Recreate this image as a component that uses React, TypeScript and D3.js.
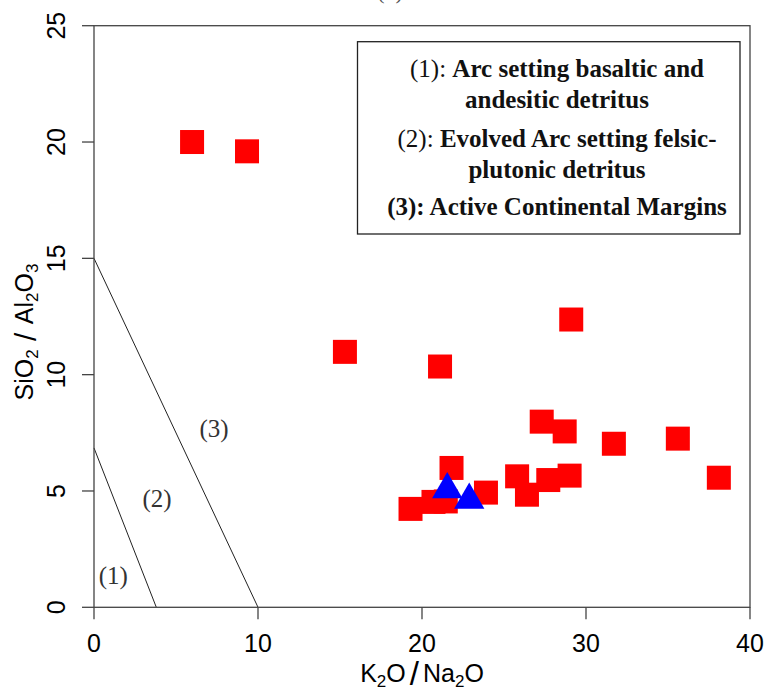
import React from "react";
import * as d3 from "d3";

// ---- data ----
const redX = [5.98, 9.33, 15.3, 21.1, 29.1, 27.3, 28.7, 31.7, 35.6, 38.1, 21.8, 25.8, 26.4, 27.7, 29.0, 23.9, 19.3, 20.7, 21.45];
const redY = [20.0, 19.6, 10.98, 10.35, 12.37, 7.98, 7.56, 7.03, 7.25, 5.57, 5.99, 5.63, 4.84, 5.47, 5.66, 4.93, 4.23, 4.53, 4.55];
const blueX = [21.54, 22.88];
const blueY = [5.06, 4.61];
const xTicks = [0, 10, 20, 30, 40];
const yTicks = [0, 5, 10, 15, 20, 25];
const boundary1 = [[0, 6.85], [3.8, 0]];
const boundary2 = [[0, 15], [10, 0]];
const regionLabels = [
  { text: "(1)", x: 1.18, y: 1.32 },
  { text: "(2)", x: 3.84, y: 4.61 },
  { text: "(3)", x: 7.32, y: 7.62 },
];
const legendLines = [
  { prefix: "(1): ", body: "Arc setting basaltic and", prefixBold: false },
  { prefix: "", body: "andesitic detritus", prefixBold: false },
  { prefix: "(2): ", body: "Evolved Arc setting felsic-", prefixBold: false },
  { prefix: "", body: "plutonic detritus", prefixBold: false },
  { prefix: "(3): ", body: "Active Continental Margins", prefixBold: true },
];

export default function App() {
  const W = 765, H = 693;
  const x = d3.scaleLinear().domain([0, 40]).range([94, 750]);
  const y = d3.scaleLinear().domain([0, 25]).range([607.3, 25.7]);
  const line = d3.line<number[]>().x((d) => x(d[0])).y((d) => y(d[1]));
  const sq = 24;
  const r = 17.5;
  const tri = `M0,${-r}L${(Math.sqrt(3) / 2) * r},${r / 2}L${-(Math.sqrt(3) / 2) * r},${r / 2}Z`;
  const sans = "'Liberation Sans', Arial, sans-serif";
  const serif = "'Liberation Serif', 'Times New Roman', serif";
  const axisColor = "#444";
  const legendBaselines = [77, 108, 147, 178, 215];

  return (
    <svg width={W} height={H} style={{ position: "absolute", left: 0, top: 0, background: "#fff" }}>
      <rect x={0} y={0} width={W} height={H} fill="#fff" />
      {/* cut-off title */}
      <text x={390} y={-1} textAnchor="middle" fontFamily={serif} fontSize={22} fill="#555">(b)</text>

      {/* boundary lines */}
      <path d={line(boundary1) || ""} stroke="#222" strokeWidth={1} fill="none" />
      <path d={line(boundary2) || ""} stroke="#222" strokeWidth={1} fill="none" />
      {regionLabels.map((l, i) => (
        <text key={i} x={x(l.x)} y={y(l.y) + 7} textAnchor="middle" fontFamily={serif} fontSize={25} fill="#333">
          {l.text}
        </text>
      ))}

      {/* box */}
      <rect x={x(0)} y={y(25)} width={x(40) - x(0)} height={y(0) - y(25)} fill="none" stroke={axisColor} strokeWidth={1.3} />

      {/* x axis */}
      {xTicks.map((t) => (
        <g key={"x" + t}>
          <line x1={x(t)} x2={x(t)} y1={y(0)} y2={y(0) + 12} stroke={axisColor} strokeWidth={1.3} />
          <text x={x(t)} y={652} textAnchor="middle" fontFamily={sans} fontSize={25} fill="#000">{t}</text>
        </g>
      ))}
      {/* y axis */}
      {yTicks.map((t) => (
        <g key={"y" + t}>
          <line x1={x(0) - 12} x2={x(0)} y1={y(t)} y2={y(t)} stroke={axisColor} strokeWidth={1.3} />
          <text transform={`translate(65,${y(t)}) rotate(-90)`} textAnchor="middle" fontFamily={sans} fontSize={25} fill="#000">{t}</text>
        </g>
      ))}

      {/* axis titles */}
      <text x={422} y={681.5} textAnchor="middle" fontFamily={sans} fontSize={25} fill="#000">
        K<tspan dy={5} fontSize={17}>2</tspan><tspan dy={-5}>O</tspan>
        <tspan fontSize={33} dy={3} dx={4}>/</tspan>
        <tspan dy={-3} dx={4}>Na</tspan><tspan dy={5} fontSize={17}>2</tspan><tspan dy={-5}>O</tspan>
      </text>
      <text transform={`translate(33,332) rotate(-90)`} textAnchor="middle" fontFamily={sans} fontSize={25} fill="#000">
        SiO<tspan dy={5} fontSize={17}>2</tspan>
        <tspan dy={-2} fontSize={30}> / </tspan>
        <tspan dy={-3}>Al</tspan><tspan dy={5} fontSize={17}>2</tspan><tspan dy={-5}>O</tspan><tspan dy={5} fontSize={17}>3</tspan>
      </text>

      {/* legend */}
      <rect x={357.5} y={41.7} width={740 - 357.5} height={234 - 41.7} fill="#fff" stroke="#222" strokeWidth={1.3} />
      {legendLines.map((l, i) => (
        <text key={i} x={557} y={legendBaselines[i]} textAnchor="middle" fontFamily={serif} fontSize={25} fill="#111">
          {l.prefix ? <tspan fontWeight={l.prefixBold ? "bold" : "normal"}>{l.prefix}</tspan> : null}
          <tspan fontWeight="bold">{l.body}</tspan>
        </text>
      ))}

      {/* points */}
      {redX.map((v, i) => (
        <rect key={"r" + i} x={x(v) - sq / 2} y={y(redY[i]) - sq / 2} width={sq} height={sq} fill="#FF0000" />
      ))}
      {blueX.map((v, i) => (
        <path key={"b" + i} d={tri} transform={`translate(${x(v)},${y(blueY[i])})`} fill="#0000FF" />
      ))}
    </svg>
  );
}
